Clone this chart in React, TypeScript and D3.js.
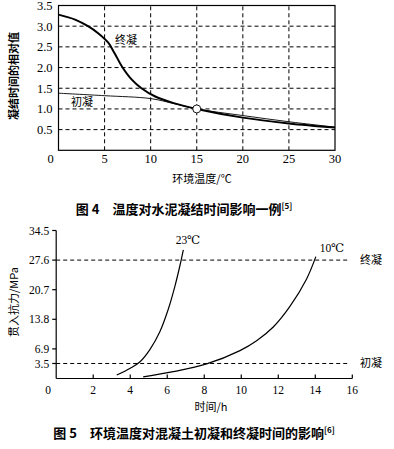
import React from 'react';
import * as d3 from 'd3';

// Fig 4: relative setting time vs ambient temperature
const temps4 = [0, 5, 10, 15, 20, 25, 30];
const relTicks = [0.5, 1.0, 1.5, 2.0, 2.5, 3.0, 3.5];
const finalT = [0, 1.8, 3.2, 4.3, 5.4, 6.1, 6.9, 7.9, 9.0, 10.5, 12.5, 15, 20, 25, 30];
const finalV = [3.28, 3.16, 3.0, 2.83, 2.6, 2.34, 2.02, 1.72, 1.5, 1.3, 1.14, 1.0, 0.79, 0.65, 0.55];
const initialT = [0, 5, 10, 12.5, 15, 20, 25, 30];
const initialV = [1.38, 1.32, 1.25, 1.13, 1.0, 0.84, 0.69, 0.56];

// Fig 5: penetration resistance vs time
const hours = [0, 2, 4, 6, 8, 10, 12, 14, 16];
const mpaTicks = [3.5, 6.9, 13.8, 20.7, 27.6, 34.5];
const c23T = [3.27, 4.0, 4.53, 5.07, 5.6, 6.06, 6.42, 6.69, 6.87];
const c23V = [0.8, 2.4, 3.9, 6.8, 10.9, 16.2, 21.6, 26.4, 30.0];
const c10T = [4.7, 6.33, 8.13, 9.93, 10.83, 11.73, 12.63, 13.53, 14.03];
const c10V = [0.4, 1.6, 3.4, 6.5, 8.8, 12.0, 16.8, 23.2, 28.4];
const initialSet = 3.5;
const finalSet = 27.6;

const serif = '"Liberation Serif", "DejaVu Serif", serif';
const cjk = '"Noto Sans CJK SC", sans-serif';

export default function App() {
  // top chart scales
  const x4 = d3.scaleLinear().domain([0, 30]).range([58.5, 335]);
  const y4 = d3.scaleLinear().domain([0, 3.5]).range([150.3, 5.5]);
  const line4 = d3.line<[number, number]>()
    .x(d => x4(d[0]))
    .y(d => y4(d[1]))
    .curve(d3.curveCatmullRom.alpha(0.5));
  const finalPts = finalT.map((t, i) => [t, finalV[i]] as [number, number]);
  const initialPts = initialT.map((t, i) => [t, initialV[i]] as [number, number]);

  // bottom chart scales
  const x5 = d3.scaleLinear().domain([0, 16]).range([56.2, 352.3]);
  const y5 = d3.scaleLinear().domain([0, 34.5]).range([378.5, 230.5]);
  const line5 = d3.line<[number, number]>()
    .x(d => x5(d[0]))
    .y(d => y5(d[1]))
    .curve(d3.curveCatmullRom.alpha(0.5));
  const c23 = c23T.map((t, i) => [t, c23V[i]] as [number, number]);
  const c10 = c10T.map((t, i) => [t, c10V[i]] as [number, number]);

  return (
    <div style={{ position: 'absolute', left: 0, top: 0 }}>
      <svg width={394} height={449} style={{ display: 'block', background: '#fff' }}>
        {/* ---- Fig 4 ---- */}
        <g stroke="#000" strokeWidth={1} strokeDasharray="4,3" fill="none">
          {temps4.slice(1, -1).map(t => (
            <line key={'gx' + t} x1={x4(t)} x2={x4(t)} y1={y4(0)} y2={y4(3.5)} />
          ))}
          {relTicks.slice(0, -1).map(v => (
            <line key={'gy' + v} x1={x4(0)} x2={x4(30)} y1={y4(v)} y2={y4(v)} />
          ))}
        </g>
        <rect x={x4(0)} y={y4(3.5)} width={x4(30) - x4(0)} height={y4(0) - y4(3.5)}
          fill="none" stroke="#000" strokeWidth={1.2} />
        <path d={line4(initialPts) || ''} fill="none" stroke="#000" strokeWidth={0.9} />
        <path d={line4(finalPts) || ''} fill="none" stroke="#000" strokeWidth={2} />
        <circle cx={x4(15)} cy={y4(1.0)} r={4} fill="#fff" stroke="#000" strokeWidth={0.9} />
        <g fontFamily={serif} fontSize={12.5} fill="#000">
          {relTicks.map(v => (
            <text key={'ty' + v} x={x4(0) - 6} y={y4(v)} textAnchor="end" dy="0.35em">{v.toFixed(1)}</text>
          ))}
          {temps4.map(t => (
            <text key={'tx' + t} x={t === 0 ? x4(0) - 8 : x4(t)} y={y4(0) + 13} textAnchor="middle">{t}</text>
          ))}
        </g>
        <g fontFamily={cjk} fontSize={11} fill="#000">
          <text x={126} y={44} textAnchor="middle">终凝</text>
          <text x={82} y={106} textAnchor="middle">初凝</text>
          <text x={202} y={183} textAnchor="middle">环境温度/℃</text>
          <text transform={`translate(18,76) rotate(-90)`} textAnchor="middle" fontWeight="bold">凝结时间的相对值</text>
        </g>
        <text x={184} y={214} textAnchor="middle" fontFamily={cjk} fontSize={13} fontWeight="bold">
          图 4　温度对水泥凝结时间影响一例<tspan fontSize={8} dy={-5}>[5]</tspan>
        </text>

        {/* ---- Fig 5 ---- */}
        <g stroke="#000" strokeWidth={1} strokeDasharray="4,3" fill="none">
          <line x1={x5(0)} x2={348} y1={y5(finalSet)} y2={y5(finalSet)} />
          <line x1={x5(0)} x2={348} y1={y5(initialSet)} y2={y5(initialSet)} />
        </g>
        <g stroke="#000" strokeWidth={1.2} fill="none">
          <line x1={x5(0)} x2={x5(0)} y1={y5(0)} y2={y5(34.5)} />
          <line x1={x5(0)} x2={x5(16)} y1={y5(0)} y2={y5(0)} />
          {mpaTicks.map(v => (
            <line key={'my' + v} x1={x5(0) - 4} x2={x5(0)} y1={y5(v)} y2={y5(v)} />
          ))}
          {hours.slice(1).map(h => (
            <line key={'mx' + h} x1={x5(h)} x2={x5(h)} y1={y5(0)} y2={y5(0) - 4} />
          ))}
        </g>
        <path d={line5(c23) || ''} fill="none" stroke="#000" strokeWidth={1.2} />
        <path d={line5(c10) || ''} fill="none" stroke="#000" strokeWidth={1.2} />
        <g fontFamily={serif} fontSize={11.5} fill="#000">
          {mpaTicks.map(v => (
            <text key={'ly' + v} x={x5(0) - 7} y={y5(v)} textAnchor="end" dy="0.35em">{v}</text>
          ))}
          {hours.map(h => (
            <text key={'lx' + h} x={h === 0 ? x5(0) - 8 : x5(h)} y={y5(0) + 15} textAnchor="middle">{h}</text>
          ))}
          <text x={188} y={244} textAnchor="middle">23℃</text>
          <text x={332} y={252} textAnchor="middle">10℃</text>
        </g>
        <g fontFamily={cjk} fontSize={11} fill="#000">
          <text x={360} y={y5(finalSet)} dy="0.35em">终凝</text>
          <text x={360} y={y5(initialSet)} dy="0.35em">初凝</text>
          <text x={211} y={411} textAnchor="middle">时间/h</text>
          <text transform={`translate(18,302) rotate(-90)`} textAnchor="middle">贯入抗力/MPa</text>
        </g>
        <text x={194} y={438} textAnchor="middle" fontFamily={cjk} fontSize={13} fontWeight="bold">
          图 5　环境温度对混凝土初凝和终凝时间的影响<tspan fontSize={8} dy={-5}>[6]</tspan>
        </text>
      </svg>
    </div>
  );
}
